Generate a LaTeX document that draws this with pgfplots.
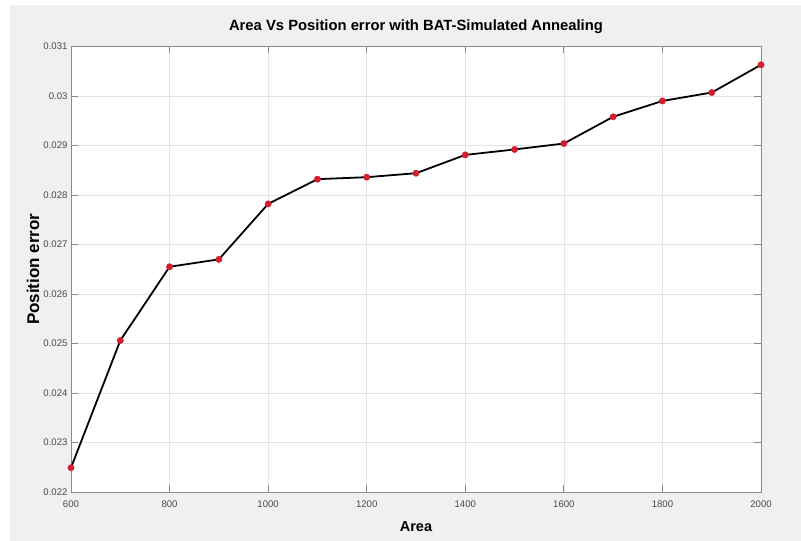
\documentclass[border=0pt]{standalone}
\usepackage{pgfplots}
\pgfplotsset{compat=1.18}
\usepackage{fontspec}
\setmainfont{Liberation Sans}

\definecolor{figbg}{HTML}{F0F0F0}
\definecolor{axgray}{HTML}{8A8A8A}
\definecolor{ticktext}{HTML}{4A4A4A}
\definecolor{gridc}{HTML}{E4E4E4}
\definecolor{markred}{HTML}{D21F2E}

\begin{document}
\begin{tikzpicture}[x=1pt,y=1pt]
  \path[use as bounding box] (0,0) rectangle (801,541);
  \fill[white] (0,0) rectangle (801,541);
  \fill[figbg] (10,0) rectangle (801,536);
  \begin{axis}[
    at={(71pt,49pt)}, anchor=south west,
    width=690pt, height=445.5pt, scale only axis,
    xmin=600, xmax=2000, ymin=0.022, ymax=0.031,
    xtick={600,800,...,2000},
    xticklabels={600,800,1000,1200,1400,1600,1800,2000},
    ytick={0.022,0.023,0.024,0.025,0.026,0.027,0.028,0.029,0.030,0.031},
    yticklabels={0.022,0.023,0.024,0.025,0.026,0.027,0.028,0.029,0.03,0.031},
    scaled y ticks=false,
    axis background/.style={fill=white},
    axis line style={axgray, line width=0.8pt},
    tick style={axgray, line width=0.8pt},
    major tick length=7pt,
    tick align=inside,
    grid=major,
    major grid style={gridc, line width=0.7pt},
    ticklabel style={font=\fontsize{9.6}{11}\selectfont, text=ticktext},
    xticklabel style={yshift=-5pt},
    /pgf/number format/assume math mode=true,
    title={Area Vs Position error with BAT-Simulated Annealing},
    title style={at={(axis description cs:0.5,1.0303)}, anchor=center,
                 font=\fontsize{14.8}{17}\selectfont\bfseries},
    xlabel={Area},
    xlabel style={at={(axis description cs:0.5,-0.0785)}, anchor=center,
                  font=\fontsize{14.5}{17}\selectfont\bfseries},
    ylabel={Position error},
    ylabel style={at={(axis description cs:-0.0551,0.5)}, anchor=center,
                  font=\fontsize{17}{20}\selectfont\bfseries},
    clip=false,
  ]
    \addplot[black, line width=1.8pt,
             mark=*, mark size=3.2pt,
             mark options={fill=markred, draw=markred, line width=0.4pt}]
      coordinates {
        (600,0.02249) (700,0.02506) (800,0.02655) (900,0.02670)
        (1000,0.02782) (1100,0.02832) (1200,0.02836) (1300,0.02844)
        (1400,0.02881) (1500,0.02892) (1600,0.02904) (1700,0.02958)
        (1800,0.02990) (1900,0.03007) (2000,0.03063)
      };
  \end{axis}
\end{tikzpicture}
\end{document}
